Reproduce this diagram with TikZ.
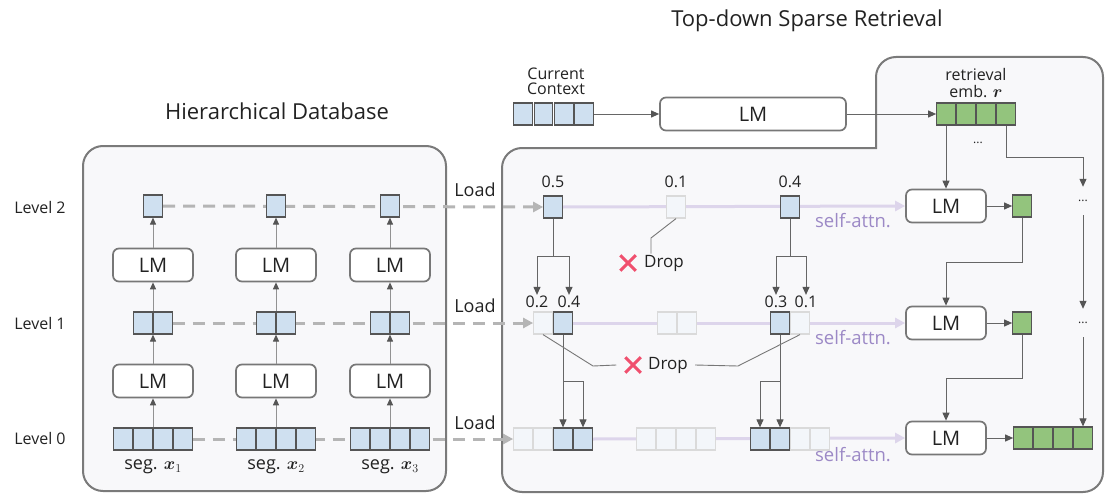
\documentclass[tikz,border=0pt]{standalone}
\usepackage{bm}
\usepackage{fontspec}
\setmainfont{Open Sans}
\usetikzlibrary{arrows.meta,calc,shapes.misc}
\pgfdeclarelayer{back}\pgfdeclarelayer{mid}
\pgfsetlayers{back,mid,main}
\definecolor{bblue}{HTML}{CFE0F0}
\definecolor{bord}{HTML}{555555}
\definecolor{fbord}{HTML}{DADADA}
\definecolor{ffill}{HTML}{F3F6FA}
\definecolor{ggreen}{HTML}{93C47D}
\definecolor{lmb}{HTML}{777777}
\definecolor{pfill}{HTML}{F8F8FA}
\definecolor{pbord}{HTML}{7A7A7A}
\definecolor{dgray}{HTML}{B5B5B5}
\definecolor{pline}{HTML}{DDD5EB}
\definecolor{ptext}{HTML}{9C89C6}
\definecolor{xred}{HTML}{F0506E}
\definecolor{tipc}{HTML}{555555}
\definecolor{txtc}{HTML}{222222}
\newcommand\fsz[1]{\fontsize{#1}{#1}\selectfont}
\newcommand\fszb[2]{\fontsize{#1}{#2}\selectfont}
\tikzset{
  bx/.style={rectangle, minimum width=18.5, minimum height=22, inner sep=0, line width=1.2},
  bb/.style={bx, draw=bord, fill=bblue},
  fb/.style={bx, draw=fbord, fill=ffill},
  gb/.style={bx, draw=bord, fill=ggreen},
  lm/.style={rectangle, rounded corners=6, draw=lmb, line width=1.7, fill=white, minimum width=80, minimum height=33, inner sep=0, font=\fsz{20}, text=txtc},
  txt/.style={inner sep=1, text=txtc, font=\fsz{16}},
  num/.style={inner sep=1, text=txtc, font=\fsz{16}},
  ttl/.style={inner sep=0, text=txtc, font=\fsz{22}},
  sat/.style={inner sep=0, text=ptext, font=\fsz{18.5}},
  panel/.style={draw=pbord, fill=pfill, line width=2},
  darr/.style={draw=lmb!80, line width=1, -{Triangle[length=7pt,width=6pt,color=tipc]}},
  arr/.style={draw=bord!90, line width=1, -{Triangle[length=8pt,width=7pt,color=tipc]}},
  ld/.style={draw=dgray, line width=3, dash pattern=on 12pt off 8pt, -{Triangle[length=10pt,width=10pt]}},
  sa/.style={draw=pline, line width=3, -{Triangle[length=10pt,width=10pt]}},
  dropline/.style={draw=bord!80, line width=0.9},
  xx/.style={cross out, draw=xred, line width=3, minimum size=12.5, inner sep=0},
  dots/.style={inner sep=0, minimum height=28, text=txtc, font=\fsz{12}},
}
\begin{document}
\begin{tikzpicture}[x=1pt,y=-1pt]
\useasboundingbox (0,0) rectangle (1116,503);

% ---------- titles and level labels
\node[ttl] (tdb) at (277,111) {Hierarchical Database};
\node[ttl] (trt) at (807,21) {Top-down Sparse Retrieval};
\node[txt] (lv2) at (40,207) {Level 2};
\node[txt] (lv1) at (40,323) {Level 1};
\node[txt] (lv0) at (40,438) {Level 0};

% ---------- hierarchical database columns
\foreach \k/\X in {1/153,2/276,3/390}{
  \node[bb, minimum width=19] (c\k t) at (\X,206) {};
  \node[lm] (c\k u) at (\X,265) {LM};
  \node[bb] (c\k ma) at (\X-10,323) {};
  \node[bb] (c\k mb) at (\X+10,323) {};
  \node[lm] (c\k d) at (\X,381) {LM};
  \node[bb] (c\k ba) at (\X-30,439) {};
  \node[bb] (c\k bb) at (\X-10,439) {};
  \node[bb] (c\k bc) at (\X+10,439) {};
  \node[bb] (c\k bd) at (\X+30,439) {};
  \node[txt, font=\fsz{18}] (c\k s) at (\X,467) {seg. $\bm{x}_\k$};
  \draw[darr] (c\k d |- c\k ba.north) -- (c\k d.south);
  \draw[darr] (c\k d.north) -- (c\k d |- c\k ma.south);
  \draw[darr] (c\k u |- c\k ma.north) -- (c\k u.south);
  \draw[darr] (c\k u.north) -- (c\k u |- c\k t.south);
}

% ---------- top: current context
\node[txt, align=center, font=\fszb{16}{15}] (cctx) at (556,81) {Current\\Context};
\node[bb] (cc1) at (523,114) {};
\node[bb] (cc2) at (543.5,114) {};
\node[bb] (cc3) at (564,114) {};
\node[bb] (cc4) at (584,114) {};
\node[lm, minimum width=186] (tlm) at (753,114) {LM};
\node[gb] (gt1) at (946,114) {};
\node[gb] (gt2) at (966,114) {};
\node[gb] (gt3) at (986,114) {};
\node[gb] (gt4) at (1006,114) {};
\node[txt, align=center, font=\fszb{16}{17}] (remb) at (976,83) {retrieval\\emb. $\bm{r}$};
\draw[arr] (cc4.east) -- (tlm.west);
\draw[arr] (tlm.east) -- (gt1.west);

% ---------- retrieval: level 2
\node[txt, font=\fsz{18}] (ld2) at (475,190) {Load};
\node[txt, font=\fsz{18}] (ld1) at (475,306) {Load};
\node[txt, font=\fsz{18}] (ld0) at (475,423) {Load};
\node[bb] (r2a) at (553,207) {};
\node[fb] (r2b) at (676,207) {};
\node[bb] (r2c) at (790,207) {};
\node[num] (n05) at (553,182) {0.5};
\node[num] (n01a) at (676,182) {0.1};
\node[num] (n04a) at (790,182) {0.4};
\node[lm] (rlm2) at (946,206) {LM};
\node[lm] (rlm1) at (946,323) {LM};
\node[lm] (rlm0) at (946,438) {LM};
\node[gb] (g2) at (1022,206) {};
\node[gb] (g1) at (1022,323) {};
\node[gb] (g0a) at (1023,438) {};
\node[gb] (g0b) at (1043,438) {};
\node[gb] (g0c) at (1063,438) {};
\node[gb] (g0d) at (1083,438) {};
\node[sat] (sa2) at (853,221) {self-attn.};
\node[sat] (sa1) at (853,338) {self-attn.};
\node[sat] (sa0) at (853,455) {self-attn.};
\node[dots] (dt1) at (978,143) {...};
\node[dots] (dt2) at (1083,201) {...};
\node[dots] (dt3) at (1083,323) {...};

% ---------- level 1
\node[fb] (l1a) at (543,323) {};
\node[bb] (l1b) at (563,323) {};
\node[fb] (l1c) at (667,323) {};
\node[fb] (l1d) at (687,323) {};
\node[bb] (l1e) at (780,323) {};
\node[fb] (l1f) at (800,323) {};
\node[num] (n02) at (537,302) {0.2};
\node[num] (n04b) at (569,302) {0.4};
\node[num] (n03) at (776,302) {0.3};
\node[num] (n01b) at (806,302) {0.1};

% ---------- level 0
\node[fb] (l0a) at (523,439) {};
\node[fb] (l0b) at (543,439) {};
\node[bb] (l0c) at (563,439) {};
\node[bb] (l0d) at (583,439) {};
\node[fb] (l0e) at (646,439) {};
\node[fb] (l0f) at (666,439) {};
\node[fb] (l0g) at (686,439) {};
\node[fb] (l0h) at (706,439) {};
\node[bb] (l0i) at (760,439) {};
\node[bb] (l0j) at (780,439) {};
\node[fb] (l0k) at (800,439) {};
\node[fb] (l0l) at (820,439) {};

% ---------- drop labels
\node[xx] (x2) at (628,263) {};
\node[txt, font=\fsz{17}] (drop2) at (664,263) {Drop};
\node[xx] (x1) at (633,365) {};
\node[txt, font=\fsz{17}] (drop1) at (668,365) {Drop};
\coordinate (d2k) at (651,238);

% ---------- connectors (behind nodes)
\begin{pgfonlayer}{mid}
  \draw[ld] (c1t.east) -- (r2a.west);
  \draw[ld] (c1mb.east) -- (l1a.west);
  \draw[ld] (c1bd.east) -- (l0a.west);
  \draw[sa] (r2a.east) -- (rlm2.west);
  \draw[sa] (l1b.east) -- (rlm1.west);
  \draw[sa] (l0d.east) -- (rlm0.west);
\end{pgfonlayer}

% level 2 -> level 1
\draw[arr] (r2a.south) -- ++(0,38) -| (n02.north);
\draw[arr] ($(r2a.south)+(0,38)$) -| (n04b.north);
\draw[arr] (r2c.south) -- ++(0,38) -| (n03.north);
\draw[arr] ($(r2c.south)+(0,38)$) -| (n01b.north);
% level 1 -> level 0
\draw[arr] (l1b.south) -- (l0c.north);
\draw[arr] ($(l1b.south)+(0,47)$) -| (l0d.north);
\draw[arr] (l1e.south) -- (l0j.north);
\draw[arr] ($(l1e.south)+(0,47)$) -| (l0i.north);
% drops
\draw[dropline] (r2b.south) -- (d2k) -- (d2k |- drop2.north);
\draw[dropline] (l1a.south) -- (593,366) -- ([xshift=-9pt]x1.west);
\draw[dropline] (l1f.south) -- (738,366) -- ([xshift=6pt]drop1.east);

% right column
\draw[arr] (gt1.south) -- (rlm2.north);
\draw[arr] (rlm2.east) -- (g2.west);
\draw[arr] (g2.south) -- ++(0,45) -| (rlm1.north);
\draw[arr] (rlm1.east) -- (g1.west);
\draw[arr] (g1.south) -- ++(0,44) -| (rlm0.north);
\draw[arr] (rlm0.east) -- (g0a.west);
\draw[arr] (gt4.south) -- ++(0,32) -| (dt2.north);
\draw[arr] (dt2.south) -- (dt3.north);
\draw[arr] (dt3.south) -- (g0d.north);

% ---------- panels
\begin{pgfonlayer}{back}
  \draw[panel, rounded corners=20] (83,146) rectangle (446,491);
  \draw[panel] (502,320) [rounded corners=20] -- (502,148) [sharp corners] -- (876,148) [rounded corners=20] -- (876,57) -- (1103,57) -- (1103,492) -- (502,492) -- cycle;
\end{pgfonlayer}
\end{tikzpicture}
\end{document}
